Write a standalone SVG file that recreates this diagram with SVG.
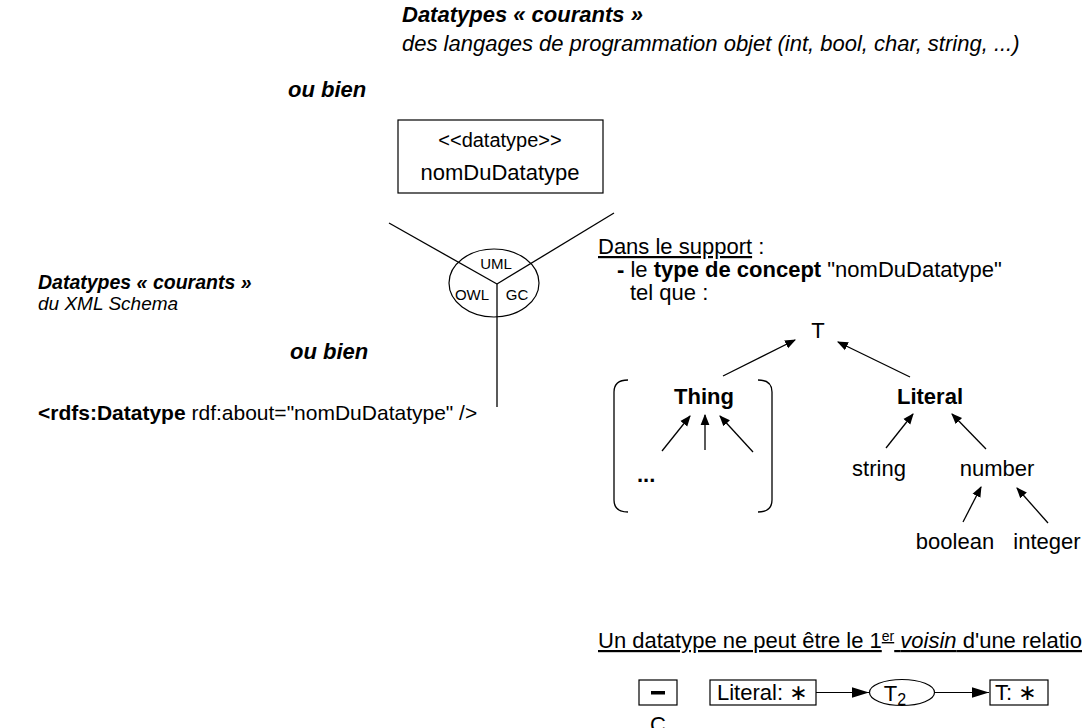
<svg xmlns="http://www.w3.org/2000/svg" width="1082" height="728" viewBox="0 0 1082 728" font-size="22">
<style>
text{font-family:"Liberation Sans",Arial,sans-serif;fill:#000}
.bi{font-weight:bold;font-style:italic}
.i{font-style:italic}
.b{font-weight:bold}
.ln{stroke:#000;stroke-width:1.3;fill:none}
.ar{stroke:#000;stroke-width:1.3;fill:none;marker-end:url(#ah)}
.box{fill:#fff;stroke:#000;stroke-width:1.2}
.star{font-family:"DejaVu Sans",sans-serif}
.hub{font-size:15px}
</style>
<defs>
<marker id="ah" viewBox="0 0 10 10" refX="9" refY="5" markerWidth="11" markerHeight="11" markerUnits="userSpaceOnUse" orient="auto">
<path d="M0,1 L10,5 L0,9 Z" fill="#000"/>
</marker>
<marker id="ah2" viewBox="0 0 16 10" refX="16" refY="5" markerWidth="17" markerHeight="11" markerUnits="userSpaceOnUse" orient="auto">
<path d="M0,0 L16,5 L0,10 Z" fill="#000"/>
</marker>
</defs>

<g id="titre-haut">
<text class="bi" x="402" y="22">Datatypes « courants »</text>
<text class="i" x="402" y="51">des langages de programmation objet (int, bool, char, string, ...)</text>
</g>
<g id="ou-bien-1"><text class="bi" x="288" y="97">ou bien</text></g>

<g id="uml-box">
<rect class="box" x="398" y="120" width="205" height="73"/>
<text x="500" y="147" text-anchor="middle" font-size="20">&lt;&lt;datatype&gt;&gt;</text>
<text x="500" y="180" text-anchor="middle">nomDuDatatype</text>
</g>

<g id="connectors">
<line class="ln" x1="389" y1="223" x2="497" y2="284"/>
<line class="ln" x1="614" y1="213" x2="497" y2="284"/>
<line class="ln" x1="497" y1="284" x2="497" y2="407"/>
</g>

<g id="hub">
<ellipse cx="494" cy="283" rx="45" ry="34" fill="none" stroke="#000" stroke-width="1.2"/>
<text class="hub" x="496" y="269" text-anchor="middle">UML</text>
<text class="hub" x="472" y="300" text-anchor="middle">OWL</text>
<text class="hub" x="517" y="300" text-anchor="middle">GC</text>
</g>

<g id="xml-schema">
<text class="bi" x="38" y="289" font-size="19.5">Datatypes « courants »</text>
<text class="i" x="38" y="310" font-size="19">du XML Schema</text>
</g>
<g id="ou-bien-2"><text class="bi" x="290" y="359">ou bien</text></g>
<g id="rdfs"><text x="38" y="420" font-size="21"><tspan class="b">&lt;rdfs:Datatype</tspan> rdf:about="nomDuDatatype" /&gt;</text></g>

<g id="support">
<text x="598" y="254"><tspan text-decoration="underline">Dans le support</tspan> :</text>
<text x="617" y="277"><tspan class="b">- </tspan>le <tspan class="b">type de concept</tspan> "nomDuDatatype"</text>
<text x="630" y="300">tel que :</text>
</g>

<g id="hierarchy">
<text x="818" y="338" text-anchor="middle">T</text>
<text class="b" x="704" y="404" text-anchor="middle">Thing</text>
<text class="b" x="930" y="404" text-anchor="middle">Literal</text>
<text class="b" x="637" y="482">...</text>
<text x="879" y="476" text-anchor="middle">string</text>
<text x="997" y="476" text-anchor="middle">number</text>
<text x="955" y="549" text-anchor="middle">boolean</text>
<text x="1047" y="549" text-anchor="middle">integer</text>
<path class="ln" d="M628,380 Q614,380 614,392 L614,500 Q614,512 628,512"/>
<path class="ln" d="M758,380 Q772,380 772,392 L772,500 Q772,512 758,512"/>
</g>

<g id="hierarchy-arrows">
<line class="ar" x1="723" y1="376" x2="795" y2="340"/>
<line class="ar" x1="910" y1="377" x2="838" y2="342"/>
<line class="ar" x1="662" y1="451" x2="690" y2="416"/>
<line class="ar" x1="705" y1="450" x2="705" y2="415"/>
<line class="ar" x1="753" y1="452" x2="720" y2="416"/>
<line class="ar" x1="886" y1="448" x2="913" y2="414"/>
<line class="ar" x1="986" y1="449" x2="952" y2="414"/>
<line class="ar" x1="963" y1="522" x2="981" y2="487"/>
<line class="ar" x1="1048" y1="523" x2="1017" y2="488"/>
</g>

<g id="regle">
<text x="598" y="648" text-decoration="underline">Un datatype ne peut être le 1<tspan font-size="14" dy="-7">er</tspan><tspan dy="7"> </tspan><tspan class="i">voisin</tspan> d'une relation</text>
</g>

<g id="neg">
<rect class="box" x="639" y="680" width="38" height="25"/>
<rect x="651" y="691" width="14" height="3.5" fill="#000"/>
<text x="658" y="732" text-anchor="middle">C</text>
</g>
<g id="lit-node">
<rect class="box" x="710" y="680" width="106" height="25"/>
<text x="717" y="700">Literal: <tspan class="star">∗</tspan></text>
</g>
<g id="t2-node">
<ellipse cx="902" cy="692.5" rx="32.5" ry="13" fill="#fff" stroke="#000" stroke-width="1.2"/>
<text x="895" y="701" text-anchor="middle">T<tspan font-size="16" dy="4">2</tspan></text>
</g>
<g id="t-node">
<rect class="box" x="990" y="680" width="58" height="25"/>
<text x="995" y="700">T: <tspan class="star">∗</tspan></text>
</g>
<g id="bottom-connectors">
<line x1="816" y1="692.5" x2="869" y2="692.5" stroke="#000" stroke-width="1.2" marker-end="url(#ah2)"/>
<line x1="935" y1="692.5" x2="989" y2="692.5" stroke="#000" stroke-width="1.2" marker-end="url(#ah2)"/>
</g>
</svg>
